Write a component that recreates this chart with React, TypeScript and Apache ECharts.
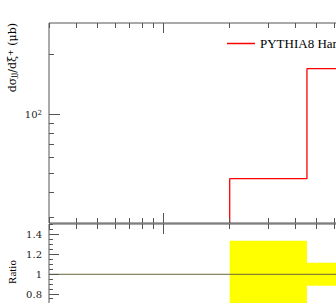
import React, { useEffect, useRef } from 'react';
import * as echarts from 'echarts';

// Axis ranges
const X_MIN = 0.3;
const X_MAX = 10;
const Y_MIN = 28;
const Y_MAX = 290;
const R_MIN = 0.5;
const R_MAX = 1.51;

// Histogram data
const binEdges = [2, 4.5, 10];
const mcValues = [47, 170];
const ratioErrors = [0.34, 0.117];
const seriesName = 'PYTHIA8 Hard QCD';

// Tick positions
const xMajorTicks = [1, 10];
const xMinorTicks = [0.3, 0.4, 0.5, 0.6, 0.7, 0.8, 0.9, 2, 3, 4, 5, 6, 7, 8, 9];
const yMajorTicks = [100];
const yMinorTicks = [30, 40, 50, 60, 70, 80, 90, 200];
const rMajorTicks = [0.6, 0.8, 1.0, 1.2, 1.4];
const rMinorTicks = [0.55, 0.65, 0.7, 0.75, 0.85, 0.9, 0.95, 1.05, 1.1, 1.15, 1.25, 1.3, 1.35, 1.45, 1.5];
const yTickLabels = [100];
const rTickLabels = [0.8, 1, 1.2, 1.4];

const AX = '#555';
const crisp = (v: number) => Math.round(v - 0.5) + 0.5;
const near = (v: number, arr: number[]) => arr.some((t) => Math.abs(v - t) < 1e-6);

function xTicks(idx: number, ticks: number[], len: number, yLo: number, yHi: number, bottom: boolean) {
  return {
    type: 'custom',
    xAxisIndex: idx,
    yAxisIndex: idx,
    silent: true,
    z: 5,
    data: ticks.map((v) => [v, yLo]),
    renderItem: (_p: any, api: any) => {
      const v = api.value(0);
      const top = api.coord([v, yHi]);
      const bot = api.coord([v, yLo]);
      const x = crisp(top[0]);
      const children: any[] = [
        { type: 'line', shape: { x1: x, y1: top[1], x2: x, y2: top[1] + len }, style: { stroke: AX, lineWidth: 1 } },
      ];
      if (bottom) {
        children.push({ type: 'line', shape: { x1: x, y1: bot[1], x2: x, y2: bot[1] - len }, style: { stroke: AX, lineWidth: 1 } });
      }
      return { type: 'group', children };
    },
  };
}

function yTicks(idx: number, ticks: number[], len: number) {
  return {
    type: 'custom',
    xAxisIndex: idx,
    yAxisIndex: idx,
    silent: true,
    z: 5,
    data: ticks.map((v) => [X_MIN, v]),
    renderItem: (_p: any, api: any) => {
      const p = api.coord([X_MIN, api.value(1)]);
      const y = crisp(p[1]);
      return { type: 'line', shape: { x1: p[0], y1: y, x2: p[0] + len, y2: y }, style: { stroke: AX, lineWidth: 1 } };
    },
  };
}

export default function App() {
  const ref = useRef<HTMLDivElement>(null);
  useEffect(() => {
    if (!ref.current) return;
    const chart = echarts.init(ref.current, undefined, { renderer: 'svg' });

    const histPts: number[][] = [[binEdges[0], Y_MIN]];
    mcValues.forEach((v, i) => {
      histPts.push([binEdges[i], v]);
      histPts.push([binEdges[i + 1], v]);
    });

    const bandData = ratioErrors.map((e, i) => [binEdges[i], binEdges[i + 1], e]);

    const option: any = {
      animation: false,
      backgroundColor: '#fff',
      grid: [
        { left: 49, top: 23, width: 334, height: 200, show: true, borderColor: AX, borderWidth: 1, backgroundColor: 'transparent' },
        { left: 49, top: 224, width: 334, height: 99.6, show: true, borderColor: AX, borderWidth: 1, backgroundColor: 'transparent' },
      ],
      xAxis: [
        { type: 'log', gridIndex: 0, min: X_MIN, max: X_MAX, axisLine: { show: false }, axisTick: { show: false }, axisLabel: { show: false }, splitLine: { show: false } },
        { type: 'log', gridIndex: 1, min: X_MIN, max: X_MAX, axisLine: { show: false }, axisTick: { show: false }, axisLabel: { show: false }, splitLine: { show: false } },
      ],
      yAxis: [
        {
          type: 'log', gridIndex: 0, min: Y_MIN, max: Y_MAX,
          axisLine: { show: false }, axisTick: { show: false }, splitLine: { show: false },
          axisLabel: {
            margin: 7,
            color: '#222',
            fontFamily: 'DejaVu Serif',
            fontSize: 10,
            formatter: (v: number) => (near(v, yTickLabels) ? '10{sup|' + Math.round(Math.log10(v)) + '}' : ''),
            rich: { sup: { fontSize: 7, verticalAlign: 'top', lineHeight: 8, fontFamily: 'DejaVu Serif', color: '#222' } },
          },
        },
        {
          type: 'value', gridIndex: 1, min: R_MIN, max: R_MAX, interval: 0.1,
          axisLine: { show: false }, axisTick: { show: false }, splitLine: { show: false },
          axisLabel: {
            margin: 7,
            color: '#222',
            fontFamily: 'DejaVu Serif',
            fontSize: 10,
            showMaxLabel: false,
            formatter: (v: number) => (near(v, rTickLabels) ? String(Math.round(v * 10) / 10) : ''),
          },
        },
      ],
      legend: {
        data: [seriesName],
        left: 227,
        top: 37,
        padding: 0,
        icon: 'rect',
        itemWidth: 28,
        itemHeight: 1.5,
        selectedMode: false,
        textStyle: { fontFamily: 'Liberation Serif', fontSize: 13, color: '#000' },
      },
      graphic: [
        {
          type: 'text',
          x: 12,
          y: 23,
          rotation: Math.PI / 2,
          style: {
            text: 'dσ{sub|jj}/dξ{sup|+} (μb)',
            fontFamily: 'DejaVu Serif',
            fontSize: 11,
            fill: '#000',
            align: 'right',
            verticalAlign: 'middle',
            rich: {
              sub: { fontSize: 8, fontFamily: 'DejaVu Serif', verticalAlign: 'bottom', lineHeight: 8, fill: '#000' },
              sup: { fontSize: 8, fontFamily: 'DejaVu Serif', verticalAlign: 'top', lineHeight: 8, fill: '#000' },
            },
          },
        },
        {
          type: 'text',
          x: 12,
          y: 272,
          rotation: Math.PI / 2,
          style: {
            text: 'Ratio',
            fontFamily: 'Liberation Serif',
            fontSize: 11,
            fill: '#000',
            align: 'center',
            verticalAlign: 'middle',
          },
        },
      ],
      series: [
        {
          type: 'custom',
          xAxisIndex: 1,
          yAxisIndex: 1,
          silent: true,
          z: 2,
          data: bandData,
          renderItem: (_p: any, api: any) => {
            const lo = api.value(0);
            const hi = api.value(1);
            const e = api.value(2);
            const p0 = api.coord([lo, 1 + e]);
            const p1 = api.coord([hi, 1 - e]);
            return {
              type: 'rect',
              shape: { x: p0[0], y: p0[1], width: p1[0] - p0[0], height: p1[1] - p0[1] },
              style: { fill: '#ffff00' },
            };
          },
        },
        {
          type: 'line',
          name: 'ref',
          xAxisIndex: 1,
          yAxisIndex: 1,
          data: [[X_MIN, 1], [X_MAX, 1]],
          symbol: 'none',
          silent: true,
          z: 3,
          lineStyle: { color: '#66663a', width: 1 },
        },
        {
          type: 'line',
          name: seriesName,
          xAxisIndex: 0,
          yAxisIndex: 0,
          data: histPts,
          symbol: 'none',
          silent: true,
          z: 4,
          itemStyle: { color: '#ff0000' },
          lineStyle: { color: '#ff0000', width: 1.3 },
        },
        xTicks(0, xMajorTicks, 10, Y_MIN, Y_MAX, true),
        xTicks(0, xMinorTicks, 5, Y_MIN, Y_MAX, true),
        xTicks(1, xMajorTicks, 10, R_MIN, R_MAX, false),
        xTicks(1, xMinorTicks, 5, R_MIN, R_MAX, false),
        yTicks(0, yMajorTicks, 11),
        yTicks(0, yMinorTicks, 5),
        yTicks(1, rMajorTicks, 10),
        yTicks(1, rMinorTicks, 4),
      ],
    };
    chart.setOption(option);
    return () => chart.dispose();
  }, []);
  return (
    <div style={{ position: 'fixed', left: 0, top: 0, width: 336, height: 303, overflow: 'hidden', background: '#fff' }}>
      <div ref={ref} style={{ width: 400, height: 340 }} />
    </div>
  );
}
